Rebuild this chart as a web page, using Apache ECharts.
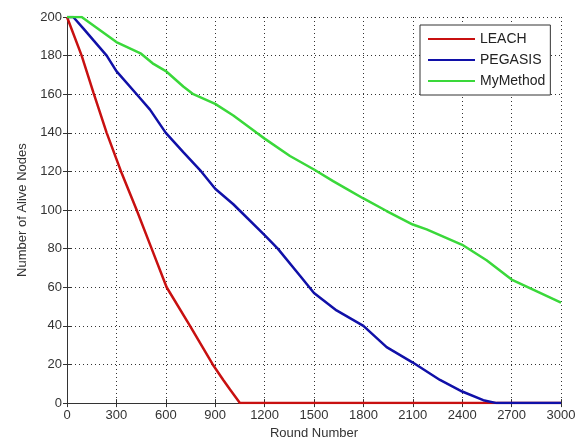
<!DOCTYPE html>
<html>
<head>
<meta charset="utf-8">
<script src="https://cdn.jsdelivr.net/npm/echarts@6/dist/echarts.min.js"></script>
<style>
  html, body { margin: 0; padding: 0; background: #fff; }
  #chart { width: 581px; height: 445px; }
</style>
</head>
<body>
<div id="chart"></div>
<script>
// data: [round, alive nodes]
const leach = [
  [0, 200], [89, 180], [160, 161], [241, 140], [328, 120], [423, 100],
  [514, 80], [605, 60], [747, 40], [885, 20], [949, 12], [990, 7],
  [1050, 0], [3000, 0]
]
const pegasis = [
  [0, 200], [38, 200], [100, 194], [160, 188], [241, 180], [300, 172],
  [423, 160], [504, 152], [600, 140], [706, 130], [815, 120], [900, 111],
  [1010, 103], [1200, 87], [1280, 80], [1415, 66], [1500, 57], [1637, 48],
  [1800, 40], [1941, 29], [2100, 21], [2265, 12], [2400, 6], [2528, 1.5],
  [2610, 0], [3000, 0]
]
const myMethod = [
  [0, 200], [89, 200], [300, 187], [450, 181], [520, 176], [600, 172],
  [706, 164], [767, 160], [900, 155], [1010, 149], [1152, 140], [1200, 137],
  [1354, 128], [1500, 121], [1616, 115], [1698, 111], [1800, 106],
  [1941, 99.5], [2100, 92.5], [2184, 90], [2400, 82], [2548, 74],
  [2700, 64], [2850, 58], [3000, 52]
]
const seriesNames = ['LEACH', 'PEGASIS', 'MyMethod']
const seriesColors = ['#c81010', '#1010a8', '#3ad83a']

const FONT = "'Liberation Sans', Arial, sans-serif"
const dotted = { show: true, lineStyle: { color: '#333', width: 1, type: [1, 3] } }
const frameLine = { show: true, lineStyle: { color: '#333', width: 1 } }
const tickIn = { show: true, inside: true, length: 4, lineStyle: { color: '#333' } }
const plain = v => String(v)

const chart = echarts.init(document.getElementById('chart'))
chart.setOption({
  backgroundColor: '#fff',
  animation: false,
  textStyle: { fontFamily: FONT },
  grid: { left: 67, right: 20, top: 17, bottom: 38 },
  legend: {
    orient: 'vertical',
    left: 420, top: 25,
    data: seriesNames,
    icon: 'rect',
    itemWidth: 47, itemHeight: 2,
    itemGap: 7,
    padding: [7, 5, 7, 8],
    borderColor: '#333', borderWidth: 1,
    backgroundColor: '#fff',
    textStyle: { fontSize: 14, color: '#222', fontFamily: FONT }
  },
  xAxis: [
    {
      type: 'value', min: 0, max: 3000, interval: 300,
      name: 'Round Number', nameLocation: 'middle', nameGap: 23,
      nameTextStyle: { fontSize: 13, color: '#333' },
      axisLine: frameLine, axisTick: tickIn,
      axisLabel: { fontSize: 13, color: '#333', margin: 6, formatter: plain },
      splitLine: dotted
    },
    {
      type: 'value', min: 0, max: 3000, interval: 300, position: 'top',
      axisLine: frameLine, axisTick: tickIn,
      axisLabel: { show: false }, splitLine: { show: false }
    }
  ],
  yAxis: [
    {
      type: 'value', min: 0, max: 200, interval: 20,
      name: 'Number of Alive Nodes', nameLocation: 'middle', nameGap: 38,
      nameTextStyle: { fontSize: 13, color: '#333' },
      axisLine: frameLine, axisTick: tickIn,
      axisLabel: { fontSize: 13, color: '#333', margin: 5, formatter: plain },
      splitLine: dotted
    },
    {
      type: 'value', min: 0, max: 200, interval: 20, position: 'right',
      axisLine: frameLine, axisTick: tickIn,
      axisLabel: { show: false }, splitLine: { show: false }
    }
  ],
  series: [leach, pegasis, myMethod].map((d, i) => ({
    name: seriesNames[i],
    type: 'line',
    data: d,
    symbol: 'none',
    lineStyle: { color: seriesColors[i], width: 2.5 },
    itemStyle: { color: seriesColors[i] }
  }))
})
</script>
</body>
</html>
